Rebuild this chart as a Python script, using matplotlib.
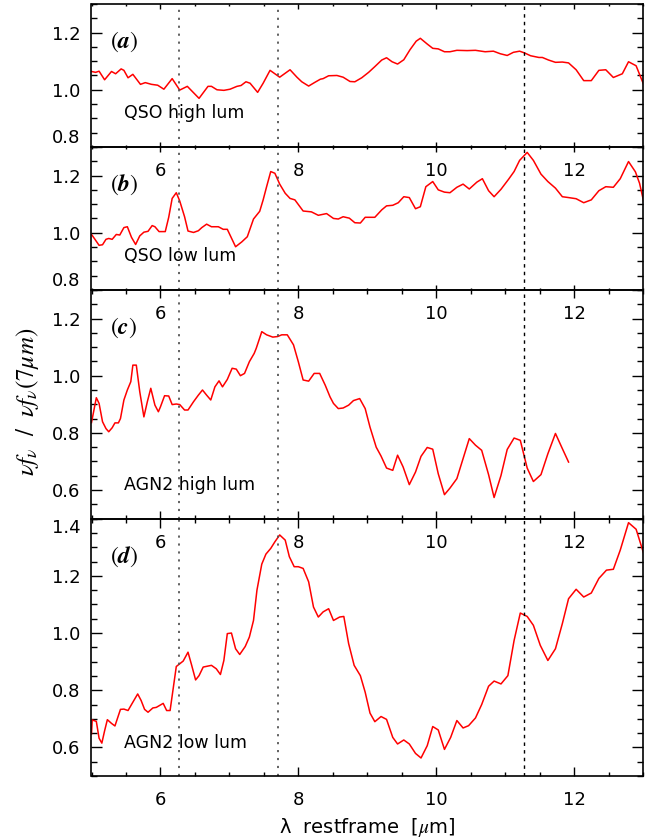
"""Four stacked mid-IR spectra (QSO / AGN2, high and low luminosity)."""

import matplotlib

matplotlib.use("Agg")
import matplotlib.pyplot as plt
from matplotlib.ticker import MultipleLocator

plt.rcParams["font.family"] = ["DejaVu Sans"]
plt.rcParams["mathtext.fontset"] = "stix"

# ---- data (wavelength in micron, normalised flux) ----
wl_a = [5.00, 5.06, 5.11, 5.19, 5.29, 5.35, 5.43, 5.47, 5.53, 5.60, 5.71, 5.78, 5.87, 5.96, 6.05, 6.17,
        6.28, 6.39, 6.56, 6.69, 6.74, 6.82, 6.92, 7.01, 7.11, 7.17, 7.24, 7.30, 7.41, 7.49, 7.59, 7.66,
        7.73, 7.88, 7.98, 8.05, 8.15, 8.24, 8.32, 8.36, 8.44, 8.56, 8.65, 8.75, 8.82, 8.92, 9.02, 9.11,
        9.21, 9.28, 9.36, 9.44, 9.53, 9.62, 9.71, 9.77, 9.87, 9.95, 10.03, 10.12, 10.20, 10.30, 10.45,
        10.57, 10.71, 10.83, 10.93, 11.03, 11.12, 11.21, 11.28, 11.37, 11.49, 11.54, 11.63, 11.73, 11.83,
        11.92, 12.03, 12.14, 12.25, 12.36, 12.46, 12.57, 12.70, 12.79, 12.90, 13.01]
fl_a = [1.064, 1.061, 1.065, 1.035, 1.064, 1.056, 1.073, 1.068, 1.042, 1.054, 1.019, 1.025, 1.019, 1.016,
        1.002, 1.039, 0.999, 1.012, 0.970, 1.012, 1.012, 1.000, 0.998, 1.002, 1.012, 1.015, 1.028, 1.023,
        0.991, 1.023, 1.068, 1.056, 1.044, 1.070, 1.044, 1.028, 1.013, 1.026, 1.037, 1.039, 1.049, 1.050,
        1.044, 1.029, 1.028, 1.042, 1.061, 1.081, 1.104, 1.112, 1.098, 1.090, 1.105, 1.140, 1.170, 1.180,
        1.160, 1.145, 1.143, 1.133, 1.133, 1.138, 1.137, 1.138, 1.133, 1.135, 1.126, 1.120, 1.131, 1.135,
        1.129, 1.119, 1.113, 1.113, 1.104, 1.096, 1.097, 1.094, 1.070, 1.032, 1.032, 1.068, 1.070, 1.043,
        1.056, 1.098, 1.084, 1.018]

wl_b = [5.00, 5.05, 5.11, 5.16, 5.21, 5.25, 5.30, 5.36, 5.41, 5.47, 5.52, 5.58, 5.64, 5.70, 5.76, 5.82,
        5.88, 5.92, 5.98, 6.07, 6.12, 6.17, 6.23, 6.28, 6.35, 6.40, 6.48, 6.55, 6.60, 6.67, 6.74, 6.84,
        6.91, 6.97, 7.09, 7.18, 7.26, 7.35, 7.44, 7.49, 7.54, 7.60, 7.66, 7.73, 7.81, 7.88, 7.95, 8.07,
        8.19, 8.29, 8.41, 8.51, 8.58, 8.65, 8.74, 8.82, 8.90, 8.97, 9.11, 9.21, 9.28, 9.37, 9.45, 9.53,
        9.61, 9.70, 9.77, 9.85, 9.95, 10.03, 10.12, 10.20, 10.30, 10.39, 10.48, 10.59, 10.67, 10.76, 10.84,
        10.94, 11.05, 11.13, 11.21, 11.32, 11.41, 11.52, 11.62, 11.73, 11.83, 11.92, 12.03, 12.14, 12.25,
        12.36, 12.46, 12.57, 12.67, 12.79, 12.89, 12.95, 13.01]
fl_b = [0.994, 0.977, 0.956, 0.958, 0.977, 0.980, 0.977, 0.994, 0.992, 1.018, 1.021, 0.984, 0.959, 0.989,
        1.002, 1.005, 1.025, 1.021, 1.004, 1.004, 1.054, 1.120, 1.140, 1.111, 1.056, 1.006, 1.001, 1.007,
        1.018, 1.030, 1.021, 1.021, 1.012, 1.012, 0.951, 0.968, 0.986, 1.048, 1.075, 1.115, 1.161, 1.214,
        1.208, 1.170, 1.138, 1.120, 1.115, 1.076, 1.073, 1.061, 1.067, 1.050, 1.048, 1.056, 1.051, 1.035,
        1.034, 1.054, 1.054, 1.080, 1.094, 1.096, 1.105, 1.126, 1.123, 1.084, 1.091, 1.161, 1.179, 1.150,
        1.142, 1.140, 1.159, 1.170, 1.153, 1.177, 1.189, 1.147, 1.126, 1.152, 1.187, 1.214, 1.253, 1.281,
        1.253, 1.205, 1.179, 1.156, 1.126, 1.123, 1.119, 1.105, 1.115, 1.147, 1.161, 1.159, 1.189, 1.249,
        1.213, 1.173, 1.109]

wl_c = [5.00, 5.07, 5.11, 5.16, 5.21, 5.25, 5.30, 5.34, 5.39, 5.42, 5.47, 5.52, 5.57, 5.60, 5.65, 5.70,
        5.76, 5.81, 5.86, 5.92, 5.97, 6.00, 6.06, 6.12, 6.17, 6.23, 6.28, 6.35, 6.40, 6.48, 6.55, 6.61,
        6.67, 6.73, 6.79, 6.85, 6.90, 6.97, 7.04, 7.10, 7.16, 7.22, 7.29, 7.36, 7.39, 7.47, 7.54, 7.63,
        7.70, 7.76, 7.84, 7.93, 8.00, 8.07, 8.15, 8.23, 8.31, 8.39, 8.46, 8.51, 8.58, 8.65, 8.73, 8.80,
        8.89, 8.97, 9.04, 9.13, 9.20, 9.28, 9.37, 9.44, 9.52, 9.61, 9.70, 9.78, 9.87, 9.95, 10.03, 10.12,
        10.20, 10.30, 10.39, 10.48, 10.57, 10.66, 10.76, 10.84, 10.94, 11.03, 11.13, 11.22, 11.32, 11.41,
        11.52, 11.62, 11.73, 11.83, 11.92]
fl_c = [0.836, 0.923, 0.903, 0.839, 0.815, 0.804, 0.818, 0.835, 0.835, 0.850, 0.915, 0.950, 0.979, 1.037,
        1.037, 0.944, 0.856, 0.909, 0.956, 0.897, 0.874, 0.891, 0.930, 0.929, 0.899, 0.901, 0.899, 0.880,
        0.880, 0.909, 0.932, 0.950, 0.932, 0.915, 0.961, 0.982, 0.961, 0.987, 1.026, 1.023, 1.000, 1.008,
        1.049, 1.078, 1.096, 1.154, 1.143, 1.135, 1.137, 1.143, 1.143, 1.108, 1.049, 0.985, 0.981, 1.008,
        1.008, 0.967, 0.926, 0.903, 0.885, 0.887, 0.897, 0.913, 0.920, 0.885, 0.820, 0.750, 0.719, 0.677,
        0.669, 0.722, 0.681, 0.619, 0.663, 0.718, 0.749, 0.743, 0.657, 0.584, 0.607, 0.640, 0.710, 0.780,
        0.757, 0.739, 0.654, 0.574, 0.651, 0.742, 0.782, 0.774, 0.677, 0.630, 0.654, 0.727, 0.798, 0.745,
        0.698]

wl_d = [5.00, 5.01, 5.07, 5.11, 5.15, 5.19, 5.23, 5.29, 5.34, 5.42, 5.47, 5.53, 5.59, 5.67, 5.72, 5.77,
        5.82, 5.89, 5.94, 6.04, 6.09, 6.14, 6.23, 6.33, 6.40, 6.45, 6.51, 6.56, 6.62, 6.74, 6.81, 6.87,
        6.92, 6.97, 7.03, 7.09, 7.15, 7.23, 7.29, 7.35, 7.40, 7.47, 7.53, 7.60, 7.66, 7.73, 7.81, 7.87,
        7.94, 8.00, 8.07, 8.15, 8.22, 8.29, 8.36, 8.44, 8.51, 8.60, 8.66, 8.73, 8.81, 8.90, 8.97, 9.04,
        9.11, 9.20, 9.28, 9.37, 9.44, 9.53, 9.61, 9.70, 9.78, 9.87, 9.95, 10.03, 10.12, 10.21, 10.30,
        10.39, 10.47, 10.57, 10.66, 10.76, 10.84, 10.94, 11.04, 11.13, 11.22, 11.32, 11.41, 11.51, 11.62,
        11.73, 11.83, 11.92, 12.03, 12.14, 12.25, 12.36, 12.47, 12.57, 12.67, 12.79, 12.90, 13.01]
fl_d = [0.647, 0.696, 0.691, 0.632, 0.615, 0.658, 0.697, 0.684, 0.675, 0.733, 0.734, 0.729, 0.754, 0.787,
        0.764, 0.733, 0.723, 0.738, 0.740, 0.754, 0.729, 0.729, 0.883, 0.902, 0.933, 0.890, 0.836, 0.851,
        0.881, 0.887, 0.875, 0.855, 0.904, 0.998, 1.000, 0.945, 0.925, 0.953, 0.986, 1.044, 1.150, 1.241,
        1.276, 1.296, 1.319, 1.343, 1.325, 1.267, 1.232, 1.232, 1.226, 1.179, 1.091, 1.056, 1.074, 1.085,
        1.044, 1.056, 1.058, 0.963, 0.887, 0.851, 0.793, 0.720, 0.690, 0.708, 0.698, 0.635, 0.612, 0.626,
        0.612, 0.579, 0.563, 0.606, 0.673, 0.661, 0.593, 0.635, 0.694, 0.668, 0.676, 0.703, 0.750, 0.814,
        0.832, 0.822, 0.851, 0.974, 1.070, 1.058, 1.027, 0.957, 0.904, 0.945, 1.033, 1.120, 1.153, 1.126,
        1.140, 1.191, 1.220, 1.223, 1.290, 1.386, 1.363, 1.278]

panel_tags = ["a", "b", "c", "d"]
panel_names = ["QSO high lum", "QSO low lum", "AGN2 high lum", "AGN2 low lum"]
panel_ylims = [(0.8, 1.3), (0.8, 1.3), (0.5, 1.3), (0.5, 1.4)]
panel_yticks = [[0.8, 1.0, 1.2], [0.8, 1.0, 1.2], [0.6, 0.8, 1.0, 1.2], [0.6, 0.8, 1.0, 1.2, 1.4]]
pah_dotted = [6.27, 7.70]
pah_dashed = [11.27]

W, H = 650, 840
fig = plt.figure(figsize=(W / 100, H / 100), dpi=100)

left, right = 91.5 / W, 643.0 / W
bottom_px, top_px = 776.0, 4.0
spans = [hi - lo for lo, hi in panel_ylims]
px_per_unit = (bottom_px - top_px) / sum(spans)

series = [(wl_a, fl_a), (wl_b, fl_b), (wl_c, fl_c), (wl_d, fl_d)]
y_top = top_px
axes = []
for i, (wl, fl) in enumerate(series):
    h_px = spans[i] * px_per_unit
    ax = fig.add_axes([left, 1 - (y_top + h_px) / H, right - left, h_px / H])
    y_top += h_px
    axes.append(ax)

    ax.plot(wl, fl, color="red", linewidth=1.1)
    for xv in pah_dotted:
        ax.axvline(xv, color="#555555", linewidth=1.3, linestyle=(0, (1.2, 3.2)))
    for xv in pah_dashed:
        ax.axvline(xv, color="black", linewidth=1.0, linestyle=(0, (2.5, 3.0)))

    ax.set_xlim(5, 13)
    ax.set_ylim(*panel_ylims[i])
    ax.set_xticks([6, 8, 10, 12])
    ax.xaxis.set_minor_locator(MultipleLocator(0.5))
    ax.set_yticks(panel_yticks[i])
    ax.yaxis.set_minor_locator(MultipleLocator(0.05))

    xlen = 0.034 * h_px * 0.72
    ax.tick_params(axis="x", which="major", direction="in", top=True, length=xlen, width=1.0,
                   labelsize=13, pad=11)
    ax.tick_params(axis="x", which="minor", direction="in", top=True, length=xlen / 2, width=1.0)
    ax.tick_params(axis="y", which="major", direction="in", right=True, length=8, width=1.0,
                   labelsize=13, pad=8)
    ax.tick_params(axis="y", which="minor", direction="in", right=True, length=4, width=1.0)
    for sp in ax.spines.values():
        sp.set_linewidth(1.2)

    lo, hi = panel_ylims[i]
    ax.text(5.27, hi - 38 / px_per_unit, rf"$(\mathbfit{{{panel_tags[i]}}})$", fontsize=17,
            ha="left", va="center")
    ax.text(5.47, lo + (0.12 if i < 2 else 0.117), panel_names[i], fontsize=12.5, ha="left",
            va="center")
    ax.set_zorder(10 - i)
    ax.patch.set_alpha(0)

# edge labels nudged inside like the original
for ax in axes[:2]:
    ax.get_yticklabels()[0].set_verticalalignment("bottom")
axes[3].get_yticklabels()[-1].set_verticalalignment("top")

axes[3].set_xlabel("λ  restframe  [$\\mu$m]", fontsize=14, labelpad=5)
fig.text(28 / W, 1 - 402 / H, r"$\nu f_\nu\ \ /\ \ \nu f_\nu(7\mu m)$", rotation=90,
         fontsize=18, ha="center", va="center")

fig.savefig("out.png", dpi=100)
